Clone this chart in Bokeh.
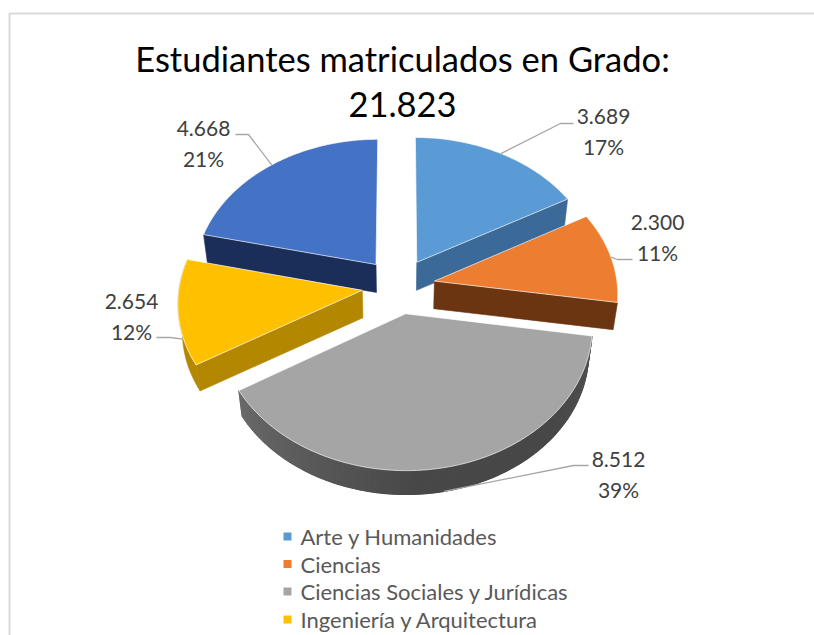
import math
from bokeh.plotting import figure
from bokeh.embed import file_html
from bokeh.resources import INLINE
from bokeh.core.properties import value

# ---- data -------------------------------------------------------------
title_lines = ["Estudiantes matriculados en Grado:", "21.823"]
categories = ["Arte y Humanidades", "Ciencias", "Ciencias Sociales y Jurídicas",
              "Ingeniería y Arquitectura", "Otra"]
legend_names = categories[:4]
counts = [3689, 2300, 8512, 2654, 4668]
count_labels = ["3.689", "2.300", "8.512", "2.654", "4.668"]
pct_labels = ["17%", "11%", "39%", "12%", "21%"]

# ---- style ------------------------------------------------------------
top_colors = ["#5B9BD5", "#ED7D31", "#A5A5A5", "#FFC000", "#4472C4"]
side_colors = ["#3B6A98", "#6A3510", "#4A4A4A", "#B38700", "#1B2E5A"]
legend_colors = top_colors[:4]
FONT = "Lato"

W, H = 814, 635
p = figure(width=W, height=H, x_range=(0, W), y_range=(H, 0),
           toolbar_location=None, output_backend="svg", min_border=0,
           outline_line_color=None, background_fill_color="white")
p.axis.visible = False
p.grid.visible = False

# ---- perspective pie model ---------------------------------------------
CX, CY, RX, RY, PERSP, EXPLODE = 398.0, 285.5, 183.0, 139.0, 0.083, 0.2
DEPTH, SHRINK = 27.5, 0.02


def project(u, v):
    s = 1.0 / (1.0 - PERSP * v)
    return CX + RX * u * s, CY + RY * v * s


def lower(pt):
    x, y = pt
    return CX + (x - CX) * (1 - SHRINK), y + DEPTH - SHRINK * (y - CY)


def rim(theta, ox, oy):
    return project(ox + math.sin(theta), oy - math.cos(theta))


total = sum(counts)
fracs = []
acc = 0.0
for c in counts:
    fracs.append((acc, acc + c / total))
    acc += c / total

wedges = []
for i, (f0, f1) in enumerate(fracs):
    t0, t1 = f0 * 2 * math.pi, f1 * 2 * math.pi
    mid = (t0 + t1) / 2
    ox, oy = EXPLODE * math.sin(mid), -EXPLODE * math.cos(mid)
    n = max(8, int((t1 - t0) * 60))
    arc = [rim(t0 + (t1 - t0) * k / n, ox, oy) for k in range(n + 1)]
    wedges.append(dict(apex=project(ox, oy), arc=arc, mid=rim(mid, ox, oy)))


def poly(pts, **kw):
    p.patch([q[0] for q in pts], [q[1] for q in pts], **kw)


cut_end = {0: -1, 1: -1, 3: 0, 4: 0}   # which end of the arc has a visible cut face
for i in [0, 4, 1, 3, 2]:
    w = wedges[i]
    arc, apex = w["arc"], w["apex"]
    side = side_colors[i]
    # outer rim (only the front slices show it)
    if i in (2, 3):
        poly(arc + [lower(q) for q in reversed(arc)], fill_color=side, line_color=side, line_width=0.5)
    if i == 2:
        for k in range(len(arc) - 1):
            a, b = arc[k], arc[k + 1]
            t = k / (len(arc) - 2)
            # the rim of the large slice lightens toward its left end
            g = int(72 + 34 * max(0.0, t - 0.55) / 0.45 + 10 * max(0.0, 0.25 - t) / 0.25)
            col = "#%02x%02x%02x" % (g, g, g)
            poly([a, b, lower(b), lower(a)], fill_color=col, line_color=col, line_width=1.2)
    # cut face
    if i in cut_end:
        e = arc[cut_end[i]]
        poly([apex, e, lower(e), lower(apex)], fill_color=side, line_color=side, line_width=0.6)
    # top surface
    poly([apex] + arc, fill_color=top_colors[i], line_color="white", line_alpha=0.65, line_width=1.0)

# ---- leader lines and labels -------------------------------------------
elbows = [[(560, 123), (573, 123)], [(617, 259), (632, 259)], [(573, 465), (588, 465)],
          [(170, 337), (156, 337)], [(248, 134), (235, 134)]]
label_xy = [(603, 116), (657, 222), (618, 459), (131, 301), (203, 128)]
LINE_GAP = 29.5
for i, w in enumerate(wedges):
    start = w["mid"]
    if i in (2, 3):
        start = lower(start)
    pts = [start] + elbows[i]
    p.line([q[0] for q in pts], [q[1] for q in pts], line_color="#A6A6A6", line_width=1.3)
    lx, ly = label_xy[i]
    p.text([lx], [ly], text=[count_labels[i]], text_font=value(FONT), text_font_size="21px",
           text_color="#404040", text_align="center", text_baseline="middle")
    p.text([lx], [ly + LINE_GAP], text=[pct_labels[i]], text_font=value(FONT), text_font_size="21px",
           text_color="#404040", text_align="center", text_baseline="middle")

# ---- title --------------------------------------------------------------
for line, y in zip(title_lines, (58, 104)):
    p.text([402], [y], text=[line], text_font=value(FONT), text_font_size="34.5px",
           text_color="#000000", text_align="center", text_baseline="middle")

# ---- legend -------------------------------------------------------------
for name, col, y in zip(legend_names, legend_colors, (536, 563.5, 591, 619)):
    p.scatter([287], [y], marker="square", size=8, fill_color=col, line_color=col, line_width=0)
    p.text([300], [y], text=[name], text_font=value(FONT), text_font_size="22px",
           text_color="#595959", text_align="left", text_baseline="middle")

# ---- frame --------------------------------------------------------------
p.line([9, 9, 814], [635, 13, 13], line_color="#D9D9D9", line_width=2)

open("out.html", "w").write(file_html(p, INLINE))
